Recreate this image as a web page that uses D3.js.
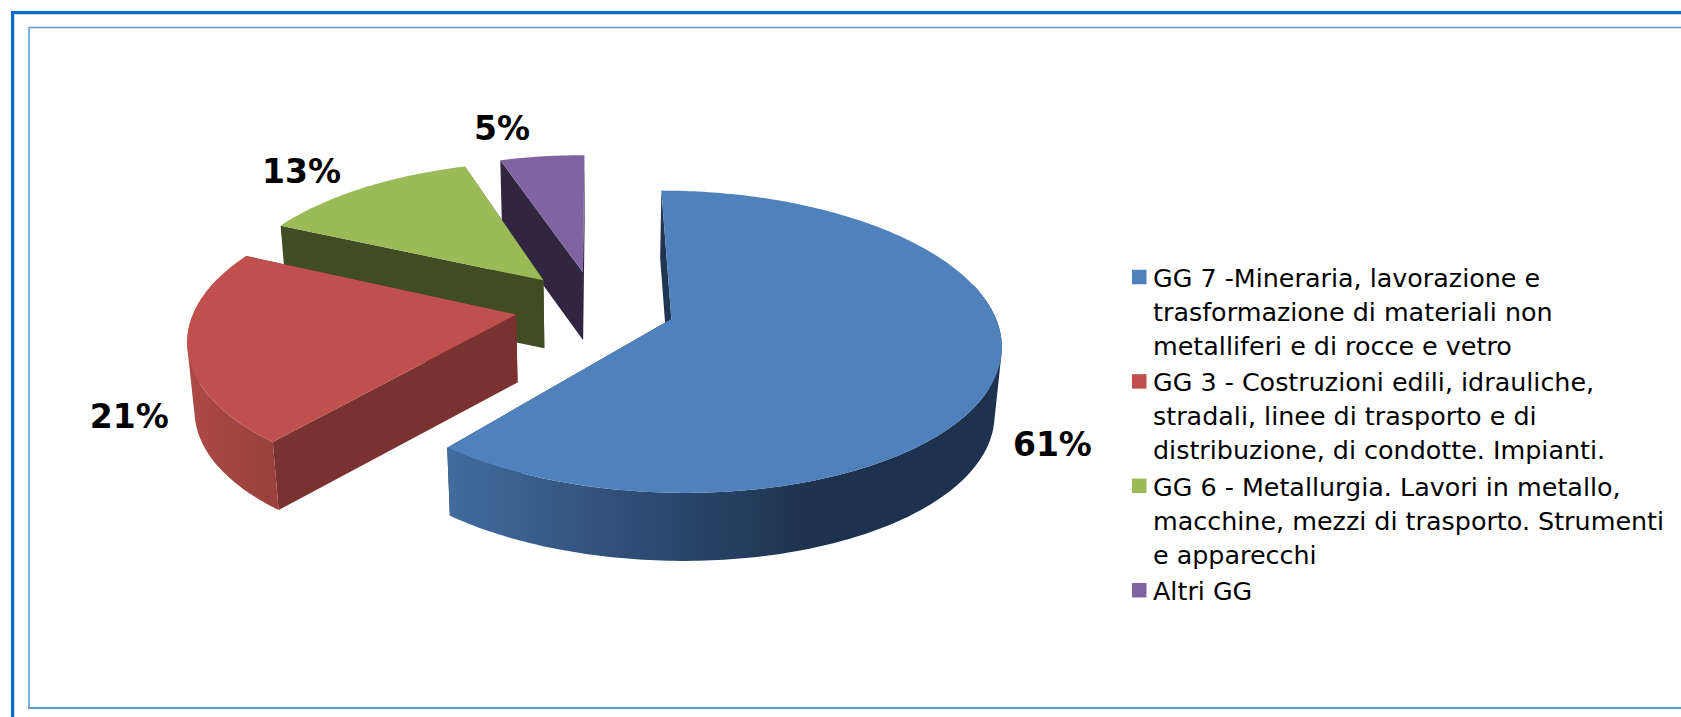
<!DOCTYPE html>
<html>
<head>
<meta charset="utf-8">
<script src="https://cdn.jsdelivr.net/npm/d3@7"></script>
<style>
  html, body { margin: 0; padding: 0; background: #fff; overflow: hidden; }
  text { font-family: "DejaVu Sans", sans-serif; }
</style>
</head>
<body>
<script>
// Shares of the hygiene groups, in drawing order around the pie
const shares = [61, 21, 13, 5];
const shareLabels = ["61%", "21%", "13%", "5%"];
const legendLines = [
  ["GG 7 -Mineraria, lavorazione e", "trasformazione di materiali non", "metalliferi e di rocce e vetro"],
  ["GG 3 - Costruzioni edili, idrauliche,", "stradali, linee di trasporto e di", "distribuzione, di condotte. Impianti."],
  ["GG 6 - Metallurgia. Lavori in metallo,", "macchine, mezzi di trasporto. Strumenti", "e apparecchi"],
  ["Altri GG"]
];
const topColors = ["#4f81bd", "#c0504d", "#9bbb59", "#8064a2"];
const wallColors = ["#1f3552", "#7a3230", "#404d22", "#31263f"];
const rimStops = [
  [["0%", "#426c9e"], ["30%", "#30507a"], ["66%", "#1d324e"], ["100%", "#1d324e"]],
  [["0%", "#ad4a47"], ["100%", "#9a403d"]]
];

// Layout of the perspective pie
const W = 1681, H = 717;
const pieX = 595, pieY = 306.6, radiusX = 320.6, radiusY = 144;
const depth = 68, converge = 0.018, perspective = 0.149, explode = 0.25;
const labelShift = [[55, 73], [-58, 69], [-61, -17], [-40, -28]];

const svg = d3.select("body").append("svg")
  .attr("width", W).attr("height", H).style("display", "block");
const defs = svg.append("defs");

// Frames
svg.append("path").attr("d", `M14.5,${H} V14.5 H${W}`)
  .attr("fill", "none").attr("stroke", "#c3daf2").attr("stroke-width", 1);
svg.append("path").attr("d", `M12.5,${H} V12.5 H${W}`)
  .attr("fill", "none").attr("stroke", "#0a6cc4").attr("stroke-width", 3);
svg.append("path").attr("d", `M29,708 V27.5 H${W}`)
  .attr("fill", "none").attr("stroke", "#5b9bd5").attr("stroke-width", 1.5);
svg.append("path").attr("d", `M28,708 H${W}`)
  .attr("fill", "none").attr("stroke", "#5b9bd5").attr("stroke-width", 2);

const scaleX = d3.scaleLinear().domain([-1, 1]).range([pieX - radiusX, pieX + radiusX]);
const scaleY = d3.scaleLinear().domain([-1, 1]).range([pieY + radiusY, pieY - radiusY]);

// World position on the top face -> screen; level 1 is the underside of the disc
function project(wx, wy, level) {
  const k = 1 / (1 + perspective * wy);
  const x = scaleX(wx * k), y = scaleY(wy * k);
  return level ? [pieX + (x - pieX) * (1 - converge), y + depth] : [x, y];
}

const slices = d3.pie().sort(null).value(d => d)(shares);
const line = d3.line();

const parts = slices.map((s, i) => {
  const mid = (s.startAngle + s.endAngle) / 2;
  const cx = Math.sin(mid) * explode, cy = Math.cos(mid) * explode;
  const n = Math.max(8, Math.round((s.endAngle - s.startAngle) * 60));
  const angles = d3.range(n + 1).map(j => s.startAngle + (s.endAngle - s.startAngle) * j / n);
  const rim = level => angles.map(a => project(cx + Math.sin(a), cy + Math.cos(a), level));
  return { i, mid, cx, cy, angles, rim, centre: level => project(cx, cy, level) };
});

// Back slices first so the nearer ones overlap them
[3, 2, 1, 0].forEach(i => {
  const p = parts[i];
  const g = svg.append("g");
  const top = p.rim(0), bottom = p.rim(1);

  // Cut faces
  [[top[0], bottom[0]], [top[top.length - 1], bottom[bottom.length - 1]]].forEach(([t, b]) => {
    g.append("path")
      .attr("d", line([t, p.centre(0), p.centre(1), b]) + "Z")
      .attr("fill", wallColors[i]);
  });

  // Curved outer wall, shaded across its width on the two front slices
  let fill = wallColors[i];
  if (rimStops[i]) {
    const xs = top.concat(bottom).map(d => d[0]);
    const grad = defs.append("linearGradient")
      .attr("id", "rim" + i).attr("gradientUnits", "userSpaceOnUse")
      .attr("x1", d3.min(xs)).attr("x2", i === 0 ? d3.max(xs) : top[0][0])
      .attr("y1", 0).attr("y2", 0);
    rimStops[i].forEach(([o, c]) => grad.append("stop").attr("offset", o).attr("stop-color", c));
    fill = `url(#rim${i})`;
  }
  // Ruled strips of the viewer-facing rim, wound alike so they fill as one shape
  const strips = d3.range(top.length - 1)
    .filter(j => Math.cos(p.angles[j]) < 0.25)
    .map(j => {
      const quad = [top[j], top[j + 1], bottom[j + 1], bottom[j]];
      return d3.polygonArea(quad) < 0 ? quad.reverse() : quad;
    });
  if (strips.length) {
    g.append("path")
      .attr("d", strips.map(q => line(q) + "Z").join(""))
      .attr("fill", fill);
  }

  // Top face
  g.append("path")
    .attr("d", line([p.centre(0)].concat(top)) + "Z")
    .attr("fill", topColors[i]);
});

// Percentage labels next to each slice
parts.forEach((p, i) => {
  const [x, y] = project(p.cx + Math.sin(p.mid), p.cy + Math.cos(p.mid), 0);
  svg.append("text")
    .attr("x", x + labelShift[i][0]).attr("y", y + labelShift[i][1])
    .attr("text-anchor", "middle").attr("dominant-baseline", "central")
    .attr("font-size", 33).attr("font-weight", "bold").attr("fill", "#000")
    .text(shareLabels[i]);
});

// Legend
const legendX = 1153, swatchX = 1132, swatchSize = 14.5, lineStep = 34, groupGap = 2.4;
let ly = 278;
legendLines.forEach((lines, i) => {
  svg.append("rect")
    .attr("x", swatchX).attr("y", ly - swatchSize / 2 - 1)
    .attr("width", swatchSize).attr("height", swatchSize)
    .attr("fill", topColors[i]);
  lines.forEach(t => {
    svg.append("text")
      .attr("x", legendX).attr("y", ly)
      .attr("dominant-baseline", "central")
      .attr("font-size", 25.4).attr("fill", "#000")
      .text(t);
    ly += lineStep;
  });
  ly += groupGap;
});
</script>
</body>
</html>
